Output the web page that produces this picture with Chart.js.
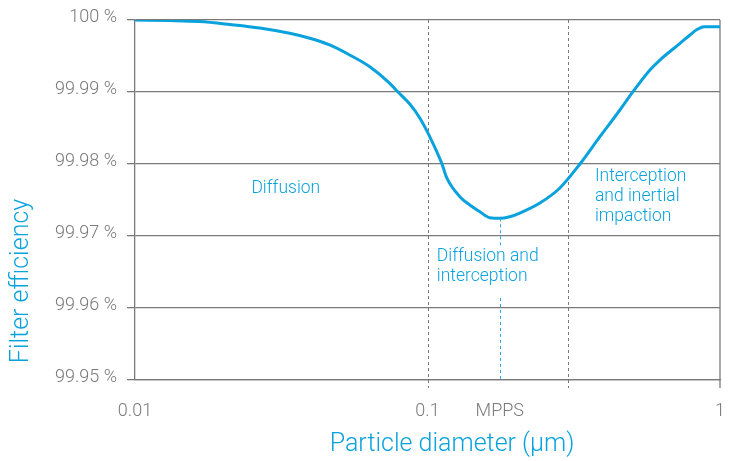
<!DOCTYPE html>
<html lang="en">
<head>
  <meta charset="UTF-8">
  <title>Filter efficiency vs particle diameter</title>
  <script src="https://cdn.jsdelivr.net/npm/chart.js"></script>
  <style>
    html, body { margin: 0; background: #fff; overflow: hidden; }
    canvas { display: block; }
  </style>
</head>
<body>
  <canvas id="efficiencyChart" width="735" height="461"></canvas>

  <script>
    // values
    const diameters = [0.01, 0.0131, 0.0166, 0.0211, 0.0267, 0.0338, 0.0396, 0.0463, 0.0542, 0.0635,
      0.0743, 0.0791, 0.087, 0.0941, 0.1018, 0.1119, 0.1164, 0.129, 0.1395, 0.151,
      0.1633, 0.1767, 0.1911, 0.2069, 0.2422, 0.2835, 0.3319, 0.3885, 0.4548, 0.504,
      0.576, 0.623, 0.73, 0.7897, 0.834, 0.8815, 1.0];
    const efficiency = [100, 99.99993, 99.99979, 99.99938, 99.99889, 99.99815, 99.99746, 99.99653, 99.99514, 99.99351,
      99.99121, 99.99004, 99.98833, 99.98639, 99.98379, 99.98009, 99.97806, 99.97546, 99.97431, 99.97338,
      99.97254, 99.97246, 99.97268, 99.97319, 99.97458, 99.97667, 99.98000, 99.98379, 99.98750, 99.99004,
      99.99306, 99.99444, 99.99676, 99.99792, 99.99868, 99.99907, 99.99907];

    const yTicks = [99.95, 99.96, 99.97, 99.98, 99.99, 100];
    const xTicks = [0.01, 0.1, 0.1767, 1];
    const xTickLabels = ['0.01', '0.1', 'MPPS', '1'];
    const regionBounds = [0.1, 0.302];
    const mpps = 0.1767;
    const mppsGap = [99.9614, 99.9685];

    const notes = [
      { lines: ['Diffusion'], x: 0.025, y: 99.97593 },
      { lines: ['Diffusion and', 'interception'], x: 0.1076, y: 99.96653 },
      { lines: ['Interception', 'and inertial', 'impaction'], x: 0.3735, y: 99.97764 }
    ];

    const blue = '#0aa2dd';
    const gray = '#7a7a7a';
    const font = { family: 'Roboto', size: 18, weight: 300 };

    const overlay = {
      id: 'overlay',
      beforeDatasetsDraw(chart) {
        const { ctx, chartArea, scales: { x, y } } = chart;
        ctx.save();
        ctx.strokeStyle = gray;
        ctx.lineWidth = 1;
        ctx.setLineDash([3, 3]);
        regionBounds.forEach(v => {
          const px = Math.round(x.getPixelForValue(v)) + 0.5;
          ctx.beginPath();
          ctx.moveTo(px, chartArea.top);
          ctx.lineTo(px, chartArea.bottom + 8);
          ctx.stroke();
        });
        // right frame
        ctx.setLineDash([]);
        ctx.lineWidth = 1.3;
        const rx = x.getPixelForValue(1);
        ctx.beginPath();
        ctx.moveTo(rx, chartArea.top);
        ctx.lineTo(rx, chartArea.bottom + 8);
        ctx.stroke();
        // MPPS marker
        ctx.strokeStyle = '#1eaae6';
        ctx.lineWidth = 1;
        ctx.setLineDash([3, 3]);
        const mx = Math.round(x.getPixelForValue(mpps)) + 0.5;
        const minEff = Math.min(...efficiency);
        ctx.beginPath();
        ctx.moveTo(mx, y.getPixelForValue(minEff));
        ctx.lineTo(mx, y.getPixelForValue(mppsGap[1]));
        ctx.moveTo(mx, y.getPixelForValue(mppsGap[0]));
        ctx.lineTo(mx, chartArea.bottom);
        ctx.stroke();
        ctx.restore();
      },
      afterDraw(chart) {
        const { ctx, scales: { x, y } } = chart;
        ctx.save();
        ctx.fillStyle = blue;
        ctx.font = '300 17.5px Roboto';
        ctx.textAlign = 'left';
        ctx.textBaseline = 'alphabetic';
        notes.forEach(n => {
          const px = x.getPixelForValue(n.x);
          const py = y.getPixelForValue(n.y);
          n.lines.forEach((t, i) => ctx.fillText(t, px, py + i * 20));
        });
        // axis titles
        ctx.font = '300 25px Roboto';
        ctx.textAlign = 'center';
        ctx.textBaseline = 'middle';
        ctx.fillText('Particle diameter (µm)', 452, 445);
        ctx.translate(22, 281);
        ctx.rotate(-Math.PI / 2);
        ctx.fillText('Filter efficiency', 0, 0);
        ctx.restore();
      }
    };

    new Chart(document.getElementById('efficiencyChart'), {
      type: 'line',
      data: {
        datasets: [{
          data: diameters.map((d, i) => ({ x: d, y: efficiency[i] })),
          borderColor: blue,
          borderWidth: 3,
          pointRadius: 0,
          cubicInterpolationMode: 'monotone',
          fill: false
        }]
      },
      options: {
        responsive: false,
        animation: false,
        devicePixelRatio: 1,
        layout: { padding: { top: 20, right: 15, left: 0, bottom: 0 } },
        plugins: { legend: { display: false }, tooltip: { enabled: false } },
        scales: {
          x: {
            type: 'logarithmic',
            min: 0.01,
            max: 1,
            afterBuildTicks: axis => { axis.ticks = xTicks.map(v => ({ value: v })); },
            afterFit: s => {
              s.height = 81;
              s.paddingLeft = 0;
              s.paddingRight = 0;
            },
            ticks: {
              callback: (v, i) => xTickLabels[i],
              autoSkip: false,
              maxRotation: 0,
              color: gray,
              font: font,
              padding: 21
            },
            grid: { display: false, drawTicks: false },
            border: { display: true, color: gray, width: 1.3 }
          },
          y: {
            min: 99.95,
            max: 100,
            afterBuildTicks: axis => { axis.ticks = yTicks.map(v => ({ value: v })); },
            afterFit: s => {
              s.width = 135;
              s.paddingTop = 0;
              s.paddingBottom = 0;
            },
            ticks: {
              callback: v => (v === 100 ? '100 %' : v.toFixed(2) + ' %'),
              color: gray,
              font: font,
              padding: 10,
              labelOffset: -3
            },
            grid: { color: gray, lineWidth: 1.3, tickLength: 8, tickColor: gray },
            border: { color: gray, width: 1.3 }
          }
        }
      },
      plugins: [overlay]
    });
  </script>
</body>
</html>
